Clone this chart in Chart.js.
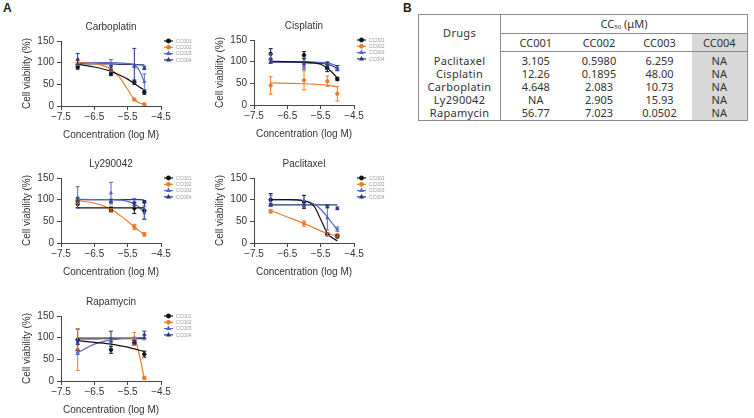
<!DOCTYPE html>
<html>
<head>
<meta charset="utf-8">
<script src="https://cdn.jsdelivr.net/npm/chart.js@4.4.1/dist/chart.umd.min.js"></script>
<style>
  body { margin: 0; width: 754px; height: 418px; position: relative; overflow: hidden; background: #fff; font-family: "Liberation Sans", Arial, sans-serif; }
  .tag { position: absolute; font: bold 12px "Liberation Sans", Arial, sans-serif; color: #222; }
  canvas.panel { position: absolute; }
  #tbl { position: absolute; left: 418px; top: 14px; border-collapse: collapse; table-layout: fixed; width: 329px;
         font-family: "Noto Sans", sans-serif; font-size: 11px; color: #333; border: 1px solid #8a8a8a; }
  #tbl td, #tbl th { padding: 0; text-align: center; font-weight: normal; white-space: nowrap; font-size: 11px; }
  #tbl .h1 td, #tbl .h1 th { height: 18px; line-height: 18px; }
  #tbl .h2 td { height: 17px; line-height: 17px; border-bottom: 1px solid #8a8a8a; }
  #tbl .cc { border-bottom: 1px solid #8a8a8a; }
  #tbl .drug { border-right: 1px solid #8a8a8a; letter-spacing: 0.3px; }
  #tbl .body td { height: 13px; line-height: 13px; }
  #tbl .body.first td { padding-top: 2px; }
  #tbl .body.last td { padding-bottom: 1px; }
  #tbl .g { background: #d9d9d9; }
  #tbl sub { font-size: 6px; line-height: 6px; vertical-align: -1px; }
</style>
</head>
<body>
<div class="tag" style="left:3px;top:1px">A</div>
<div class="tag" style="left:403px;top:1px">B</div>

<canvas class="panel" id="carbo" width="193" height="135" style="left:0;top:10px"></canvas>
<canvas class="panel" id="cis" width="193" height="135" style="left:193px;top:9px"></canvas>
<canvas class="panel" id="ly" width="193" height="135" style="left:0;top:147px"></canvas>
<canvas class="panel" id="pacli" width="193" height="135" style="left:193px;top:147px"></canvas>
<canvas class="panel" id="rapa" width="193" height="135" style="left:0;top:285px"></canvas>

<table id="tbl">
  <colgroup><col style="width:82px"><col style="width:70px"><col style="width:57px"><col style="width:64px"><col style="width:56px"></colgroup>
  <tr class="h1"><th rowspan="2" class="drug">Drugs</th><td colspan="4" class="cc">CC<sub>50</sub> (μM)</td></tr>
  <tr class="h2" id="hdr"></tr>
</table>

<script>
// shared x positions (log M) and tick labels
const concX = [-7, -6, -5.3, -5];
const fitX = [-7, -6.5, -6, -5.7, -5.5, -5.3, -5.15, -5];
const xTicks = [-7.5, -6.5, -5.5, -4.5];
const yTicks = [0, 50, 100, 150];
const lines = ['CC001', 'CC002', 'CC003', 'CC004'];

// Carboplatin: mean, error, fitted curve (rows = CC001..CC004)
const carboMean = [[90, 75, 55, 32], [97, 83, 15, 4], [100, 93, 92, 56], [108, 88, 93, 88]];
const carboErr = [[5, 5, 5, 5], [3, 3, 2, 2], [5, 14, 4, 18], [13, 5, 40, 4]];
const carboFit = [[96, 90, 80, 70, 62, 52, 44, 37], [100, 98, 85, 62, 38, 15, 7, 4],
                  [100, 100, 100, 99, 98, 95, 82, 55], [98, 97, 97, 96, 96, 96, 95, 95]];

// Cisplatin
const cisMean = [[118, 115, 85, 60], [45, 57, 55, 26], [108, 98, 96, 86], [100, 95, 90, 85]];
const cisErr = [[12, 8, 8, 4], [20, 22, 12, 17], [10, 10, 4, 5], [4, 12, 8, 6]];
const cisFit = [[101, 100, 99, 97, 94, 85, 75, 62], [51, 50, 49, 48, 47, 46, 44, 42],
                [100, 100, 100, 99, 98, 97, 94, 90], [99, 99, 98, 97, 96, 94, 90, 85]];

// Ly290042
const lyMean = [[90, 78, 80, 75], [95, 75, 37, 20], [105, 115, 95, 70], [100, 97, 88, 95]];
const lyErr = [[8, 5, 12, 20], [4, 4, 6, 4], [25, 25, 8, 15], [4, 4, 6, 3]];
const lyFit = [[81, 81, 81, 81, 81, 81, 81, 81], [98, 92, 78, 62, 50, 37, 28, 20],
               [101, 100, 100, 99, 96, 90, 82, 70], [100, 100, 100, 100, 100, 100, 100, 99]];

// Paclitaxel
const pacliMean = [[100, 95, 20, 15], [73, 45, 20, 18], [98, 90, 58, 32], [88, 90, 84, 80]];
const pacliErr = [[14, 15, 3, 3], [4, 6, 3, 4], [12, 8, 28, 5], [3, 5, 3, 3]];
const pacliFit = [[100, 100, 97, 85, 55, 22, 12, 5], [75, 60, 45, 35, 28, 22, 19, 17],
                  [100, 100, 98, 90, 78, 60, 45, 30], [88, 88, 88, 88, 88, 88, 88, 88]];

// Rapamycin
const rapaMean = [[95, 72, 88, 62], [72, 92, 97, 7], [66, 95, 97, 100], [89, 95, 90, 107]];
const rapaErr = [[25, 8, 5, 7], [48, 4, 15, 3], [5, 5, 4, 5], [5, 20, 4, 8]];
const rapaFit = [[93, 89, 85, 81, 78, 74, 71, 68], [100, 100, 100, 100, 100, 99, 60, 5],
                 [65, 85, 95, 98, 99, 99, 100, 100], [97, 97, 98, 98, 98, 98, 98, 98]];

// Table B
const drugs = ['Paclitaxel', 'Cisplatin', 'Carboplatin', 'Ly290042', 'Rapamycin'];
const cc001 = ['3.105', '12.26', '4.648', 'NA', '56.77'];
const cc002 = ['0.5980', '0.1895', '2.083', '2.905', '7.023'];
const cc003 = ['6.259', '48.00', '10.73', '15.93', '0.0502'];
const cc004 = ['NA', 'NA', 'NA', 'NA', 'NA'];

const colors = ['#111111', '#ef7b2a', '#5565cc', '#27377f'];
const fills = ['#111111', '#ef7b2a', '#5565cc', '#27377f'];
const marks = ['circle', 'circle', 'triangle', 'triangle'];
const font = { family: '"Liberation Sans", Arial, sans-serif', size: 10 };

// vertical error bars with caps
const errorBars = {
  id: 'errorBars',
  afterDatasetsDraw(chart) {
    const ctx = chart.ctx, xs = chart.scales.x, ys = chart.scales.y;
    chart.data.datasets.forEach(ds => {
      if (!ds.errors) return;
      ctx.save();
      ctx.strokeStyle = ds.borderColor;
      ctx.lineWidth = 1;
      ds.data.forEach((p, j) => {
        const x = xs.getPixelForValue(p.x);
        const lo = ys.getPixelForValue(Math.max(0, p.y - ds.errors[j]));
        const hi = ys.getPixelForValue(p.y + ds.errors[j]);
        ctx.beginPath();
        ctx.moveTo(x, lo); ctx.lineTo(x, hi);
        ctx.moveTo(x - 2, lo); ctx.lineTo(x + 2, lo);
        ctx.moveTo(x - 2, hi); ctx.lineTo(x + 2, hi);
        ctx.stroke();
      });
      ctx.restore();
    });
  }
};

// tiny legend to the right of the plot
const sideLegend = {
  id: 'sideLegend',
  afterDraw(chart) {
    const ctx = chart.ctx, a = chart.chartArea;
    ctx.save();
    lines.forEach((name, k) => {
      const x = a.right + 3, y = a.top + k * 6.3;
      ctx.strokeStyle = colors[k];
      ctx.lineWidth = 1.2;
      ctx.beginPath(); ctx.moveTo(x, y); ctx.lineTo(x + 9, y); ctx.stroke();
      ctx.fillStyle = colors[k];
      Chart.helpers.drawPoint(ctx, { pointStyle: marks[k], radius: 1.8, borderWidth: 1 }, x + 4.5, y);
      ctx.fillStyle = '#9a9a9a';
      ctx.font = '5px "Liberation Sans", Arial, sans-serif';
      ctx.textBaseline = 'middle';
      ctx.fillText(name, x + 12, y + 0.5);
    });
    ctx.restore();
  }
};

function drawPanel(id, title, mean, err, fit) {
  const datasets = [];
  lines.forEach((name, k) => {
    datasets.push({
      label: name + ' fit', type: 'line',
      data: fitX.map((x, j) => ({ x: x, y: fit[k][j] })),
      borderColor: colors[k], borderWidth: 1.2, pointRadius: 0,
      cubicInterpolationMode: 'monotone', fill: false
    });
    datasets.push({
      label: name, type: 'scatter',
      data: concX.map((x, j) => ({ x: x, y: mean[k][j] })),
      errors: err[k],
      pointStyle: marks[k], pointRadius: 1.7, pointBorderWidth: 1,
      backgroundColor: fills[k], borderColor: colors[k]
    });
  });

  new Chart(document.getElementById(id), {
    type: 'scatter',
    data: { datasets: datasets },
    options: {
      responsive: false,
      animation: false,
      layout: { padding: { left: 18, right: 32, top: 0, bottom: 0 } },
      plugins: {
        legend: { display: false },
        tooltip: { enabled: false },
        title: { display: true, fullSize: false, text: title, color: '#333', font: { ...font, weight: 'normal' }, padding: { top: 11, bottom: 8 } }
      },
      scales: {
        x: {
          type: 'linear', min: -7.5, max: -4.5,
          afterBuildTicks: s => { s.ticks = xTicks.map(v => ({ value: v })); },
          afterFit: s => { s.height = 39; },
          grid: { drawOnChartArea: false, tickLength: 4, color: '#444' },
          border: { color: '#444', width: 1 },
          ticks: { color: '#333', font: font, padding: 1, maxRotation: 0, autoSkip: false,
                   callback: v => v.toFixed(1).replace('-', '\u2212') },
          title: { display: true, text: 'Concentration (log M)', color: '#333', font: font, padding: { top: 0, bottom: 4 } }
        },
        y: {
          min: 0, max: 150,
          afterBuildTicks: s => { s.ticks = yTicks.map(v => ({ value: v })); },
          afterFit: s => { s.width = 43; },
          grid: { drawOnChartArea: false, tickLength: 4, color: '#444' },
          border: { color: '#444', width: 1 },
          ticks: { color: '#333', font: font, padding: 3 },
          title: { display: true, text: 'Cell viability (%)', color: '#333', font: font, padding: { top: 3, bottom: 0 } }
        }
      }
    },
    plugins: [errorBars, sideLegend]
  });
}

drawPanel('carbo', 'Carboplatin', carboMean, carboErr, carboFit);
drawPanel('cis', 'Cisplatin', cisMean, cisErr, cisFit);
drawPanel('ly', 'Ly290042', lyMean, lyErr, lyFit);
drawPanel('pacli', 'Paclitaxel', pacliMean, pacliErr, pacliFit);
drawPanel('rapa', 'Rapamycin', rapaMean, rapaErr, rapaFit);

// table body
const tbl = document.getElementById('tbl');
document.getElementById('hdr').innerHTML = lines.map((n, k) => '<td' + (k === 3 ? ' class="g"' : '') + '>' + n + '</td>').join('');
drugs.forEach((d, i) => {
  const tr = document.createElement('tr');
  tr.className = 'body' + (i === 0 ? ' first' : '') + (i === drugs.length - 1 ? ' last' : '');
  tr.innerHTML = '<td class="drug">' + d + '</td><td>' + cc001[i] + '</td><td>' + cc002[i] +
                 '</td><td>' + cc003[i] + '</td><td class="g">' + cc004[i] + '</td>';
  tbl.appendChild(tr);
});
</script>
</body>
</html>
